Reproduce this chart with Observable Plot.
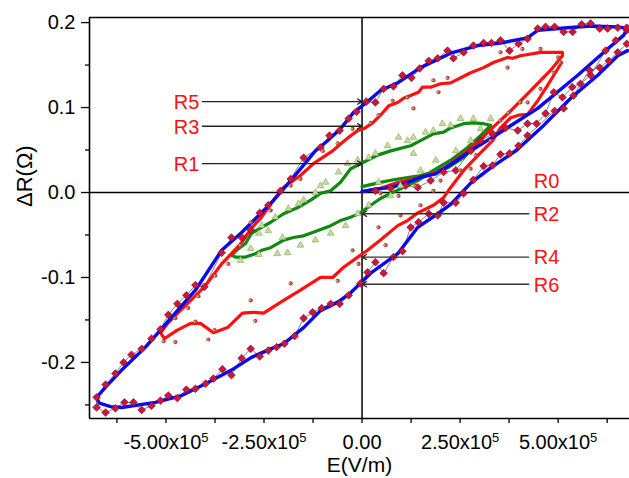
<!DOCTYPE html>
<html><head><meta charset="utf-8">
<script src="https://cdn.jsdelivr.net/npm/d3@7"></script>
<script src="https://cdn.jsdelivr.net/npm/@observablehq/plot@0.6"></script>
<style>
html,body{margin:0;padding:0;background:#fff;overflow:hidden}
#chart svg{display:block}
</style></head><body><div id="chart"></div>
<script>
// E values are in units of 1e5 V/m, ΔR in Ω
const E_UNIT = 1e5;

// Outer loop (R5/R6): smoothed blue curve
const blueLine = [
[0,0.001],[0.34,0.004],[0.73,0.006],[1.11,0.011],[1.49,0.018],[1.88,0.022],[2.26,0.033],[2.77,0.049],[3.53,0.071],[4.48,0.099],[5.50,0.138],[6.26,0.169],[6.67,0.185],[6.77,0.193],
[6.52,0.195],[5.83,0.196],[5.24,0.194],[4.48,0.191],[4.22,0.182],[3.53,0.176],[2.95,0.173],[2.26,0.164],[1.49,0.147],[0.91,0.129],[0.47,0.120],[0.14,0.107],[-0.22,0.094],[-0.55,0.075],[-0.88,0.061],[-1.19,0.049],[-1.82,0.014],[-2.33,-0.013],[-3.07,-0.047],[-3.58,-0.068],[-4.25,-0.115],[-4.86,-0.147],[-5.52,-0.182],[-6.13,-0.209],[-6.54,-0.229],[-6.77,-0.241],
[-6.70,-0.248],[-6.41,-0.252],[-6.13,-0.253],[-5.27,-0.247],[-4.60,-0.239],[-3.99,-0.225],[-3.33,-0.209],[-2.82,-0.194],[-2.33,-0.184],[-2.00,-0.178],[-1.49,-0.159],[-1.06,-0.139],[-0.62,-0.129],[-0.29,-0.118],[0.22,-0.095],[0.91,-0.072],[1.42,-0.041],[1.93,-0.025],[2.26,-0.014],[2.77,0.011],[3.28,0.029],[3.92,0.049],[4.63,0.079],[5.32,0.111],[6.01,0.138],[6.52,0.161],[6.77,0.167]
];

// Outer loop raw data (diamonds)
const outerRaw = [
[0.34,0.002],[0.73,0.005],[1.11,0.008],[1.42,0.006],[1.75,0.014],[2.08,0.024],[2.39,0.026],[2.77,0.049],[3.02,0.061],[3.33,0.069],[3.66,0.076],[3.97,0.073],[4.22,0.081],[4.45,0.081],[4.68,0.093],[4.89,0.118],[5.11,0.112],[5.36,0.124],[5.57,0.128],[5.83,0.138],[6.21,0.167],[6.47,0.179],[6.75,0.191],
[6.75,0.194],[6.52,0.194],[6.26,0.193],[6.06,0.193],[5.83,0.199],[5.60,0.198],[5.37,0.189],[5.14,0.189],[4.91,0.195],[4.68,0.195],[4.48,0.193],[4.22,0.181],[3.99,0.175],[3.76,0.167],[3.53,0.179],[3.30,0.176],[3.10,0.176],[2.84,0.173],[2.59,0.165],[2.33,0.158],[2.18,0.167],[1.93,0.158],[1.70,0.155],[1.47,0.146],[1.26,0.135],[1.03,0.138],[0.80,0.125],[0.55,0.122],[0.34,0.106],[0.11,0.107],[-0.14,0.095],[-0.34,0.087],[-0.57,0.073],[-0.83,0.067],[-1.06,0.053],[-1.49,0.041],[-1.82,0.016],[-2.08,0.002],[-2.39,-0.015],[-2.61,-0.024],[-2.84,-0.044],[-3.07,-0.053],[-3.33,-0.053],[-3.58,-0.071],[-4.02,-0.111],[-4.25,-0.109],[-4.48,-0.121],[-4.71,-0.131],[-4.94,-0.144],[-5.14,-0.161],[-5.37,-0.172],[-5.62,-0.184],[-5.88,-0.191],[-6.08,-0.200],[-6.29,-0.213],[-6.54,-0.226],[-6.77,-0.241],
[-6.77,-0.253],[-6.54,-0.259],[-6.29,-0.254],[-6.06,-0.247],[-5.83,-0.247],[-5.62,-0.256],[-5.37,-0.251],[-5.14,-0.245],[-4.94,-0.239],[-4.71,-0.242],[-4.48,-0.232],[-4.25,-0.231],[-3.99,-0.225],[-3.79,-0.219],[-3.56,-0.208],[-3.33,-0.215],[-3.07,-0.195],[-2.84,-0.184],[-2.61,-0.193],[-2.39,-0.186],[-2.18,-0.182],[-1.98,-0.178],[-1.72,-0.169],[-1.49,-0.148],[-1.26,-0.141],[-1.03,-0.136],[-0.80,-0.131],[-0.57,-0.131],[-0.34,-0.121],[-0.04,-0.107],[0.14,-0.094],[0.34,-0.082],[0.55,-0.095],[0.80,-0.076],[1.03,-0.069],[1.24,-0.041],[1.44,-0.035],[1.70,-0.025],[1.93,-0.027],[2.08,-0.012],[2.39,-0.012],[2.59,-0.001],[2.84,0.015],[3.10,0.031],[3.33,0.032],[3.53,0.045],[3.76,0.046],[3.99,0.055],[4.22,0.067],[4.91,0.096],[5.14,0.099],[5.39,0.114],[5.80,0.144],[6.06,0.147],[6.29,0.155],[6.52,0.165],[6.75,0.175]
];

// Middle loop (R3/R4): red curve
const redLine = [
[0,0.001],[0.47,0.005],[0.85,0.011],[1.49,0.018],[1.93,0.024],[2.26,0.034],[2.69,0.049],[3.10,0.066],[3.46,0.082],[3.79,0.096],[4.30,0.120],[4.81,0.144],[5.11,0.161],
[5.11,0.165],[4.81,0.165],[4.55,0.165],[4.04,0.161],[3.84,0.158],[3.71,0.159],[3.35,0.153],[3.10,0.147],[2.77,0.141],[2.26,0.129],[2.00,0.128],[1.75,0.124],[1.54,0.124],[1.44,0.118],[1.06,0.111],[0.91,0.106],[0.68,0.102],[0.47,0.091],[0.27,0.082],[0.04,0.075],[-0.11,0.073],[-0.37,0.064],[-0.60,0.055],[-0.75,0.049],[-1.24,0.034],[-1.57,0.020],[-2.00,0.006],[-2.33,-0.013],[-2.56,-0.029],[-2.82,-0.042],[-3.07,-0.059],[-3.33,-0.072],[-3.58,-0.084],[-3.84,-0.100],[-4.04,-0.112],[-4.37,-0.127],[-4.68,-0.141],[-4.94,-0.153],[-5.14,-0.165],[-5.04,-0.172],
[-4.71,-0.162],[-4.37,-0.154],[-4.12,-0.154],[-3.79,-0.165],[-3.43,-0.159],[-3.05,-0.142],[-2.77,-0.141],[-2.51,-0.142],[-2.00,-0.127],[-1.57,-0.115],[-1.06,-0.100],[-0.75,-0.100],[-0.47,-0.088],[-0.11,-0.076],[0.14,-0.068],[0.47,-0.056],[0.91,-0.039],[1.16,-0.033],[1.42,-0.024],[1.82,-0.015],[2.08,-0.006],[2.26,0.006],[2.59,0.026],[2.84,0.038],[3.07,0.049],[3.33,0.061],[3.53,0.076],[3.79,0.088],[3.99,0.091],[4.22,0.092],[4.48,0.108],[4.73,0.126],[4.89,0.138],[5.09,0.153]
];

// Middle loop raw data (small dots)
const middleRaw = [
[0.47,-0.001],[0.93,-0.004],[1.36,0.008],[2.00,0.014],[2.77,0.028],
[5.00,0.159],[4.55,0.169],[4.09,0.169],[3.71,0.147],[3.53,0.165],[2.18,0.135],[1.95,0.118],[1.82,0.132],[1.31,0.099],[1.16,0.112],[0.78,0.108],[0.42,0.091],[0.22,0.082],[-0.24,0.075],[-0.62,0.058],[-1.00,0.049],[-1.57,0.016],[-1.82,0.008],[-2.33,-0.021],[-2.84,-0.035],[-3.10,-0.062],[-3.41,-0.084],[-3.74,-0.098],[-4.17,-0.122],[-4.43,-0.136],[-4.76,-0.148],[-5.06,-0.175],
[-4.76,-0.176],[-4.25,-0.152],[-3.92,-0.173],[-3.76,-0.162],[-2.84,-0.127],[-2.72,-0.151],[-1.82,-0.107],[-0.62,-0.104],[-0.24,-0.068],[-0.09,-0.084],[0.42,-0.041],[0.60,-0.062],[0.98,-0.027],[1.49,-0.015],[1.82,0.002],[2.51,0.026],[2.90,0.044],[3.28,0.061],[3.53,0.085],[3.74,0.094],[4.04,0.106],[4.22,0.106],[4.55,0.122],[4.89,0.141],[5.06,0.153]
];

// Inner loop (R1/R2): green curve
const greenLine = [
[0,0.007],[0.47,0.012],[0.80,0.015],[1.49,0.020],[2.18,0.029],[2.59,0.041],[2.95,0.058],[3.28,0.076],
[3.28,0.079],[3.10,0.081],[2.84,0.082],[2.59,0.081],[2.26,0.076],[2.08,0.071],[1.82,0.069],[1.49,0.061],[1.24,0.055],[0.98,0.052],[0.73,0.049],[0.40,0.044],[0.01,0.035],[-0.29,0.028],[-0.55,0.012],[-0.80,0.002],[-1.06,-0.001],[-1.31,-0.009],[-1.65,-0.018],[-2.00,-0.025],[-2.33,-0.035],[-2.56,-0.041],[-2.82,-0.048],[-2.97,-0.060],[-3.20,-0.068],[-3.33,-0.074],
[-3.23,-0.076],[-2.97,-0.076],[-2.72,-0.072],[-2.56,-0.068],[-2.33,-0.065],[-2.00,-0.056],[-1.75,-0.053],[-1.49,-0.051],[-1.14,-0.045],[-0.80,-0.039],[-0.55,-0.033],[-0.29,-0.029],[-0.04,-0.024],[0.22,-0.015],[0.47,-0.007],[0.73,-0.001],[1.06,0.006],[1.42,0.014],[1.82,0.026],[2.26,0.038],[2.69,0.053],[3.02,0.067],[3.28,0.079]
];

// Inner loop raw data (triangles)
const innerRaw = [
[3.28,0.087],[2.84,0.087],[2.51,0.087],[2.26,0.079],[2.05,0.081],[1.82,0.073],[1.62,0.071],[1.31,0.065],[1.16,0.061],[0.93,0.065],[0.65,0.055],[0.34,0.046],[0.17,0.041],[-0.11,0.038],[-0.37,0.034],[-0.60,0.024],[-0.93,0.012],[-1.06,0.008],[-1.19,0.000],[-1.49,-0.009],[-1.62,-0.013],[-1.88,-0.019],[-2.21,-0.029],[-2.39,-0.045],[-2.56,-0.039],[-2.63,-0.048],[-2.84,-0.066],[-3.10,-0.080],
[-2.63,-0.073],[-2.16,-0.072],[-2.03,-0.053],[-1.90,-0.071],[-1.57,-0.062],[-1.19,-0.056],[-0.80,-0.048],[-0.42,-0.039],[-0.11,-0.025],[0.17,-0.015],[0.42,0.012],[0.73,-0.004],[0.98,0.008],[1.31,0.046],[1.49,0.026],[1.88,0.038],[2.39,0.049],[2.77,0.061],[3.02,0.075]
];

// Annotations
const leftLabels = ["R5", "R3", "R1"];
const leftLabelY = [0.107, 0.078, 0.034];
const rightLabels = ["R2", "R4", "R6"];
const rightLabelY = [-0.025, -0.076, -0.108];
const originLabel = "R0";
const originLabelY = 0.013;
const leftArrowStartE = -4.07;
const leftLabelE = -4.15;
const rightArrowStartE = 4.25;
const rightLabelE = 4.38;

// Axis ticks
const xMajor = [-5e5, -2.5e5, 0, 2.5e5, 5e5];
const xMinor = [-6.25e5, -3.75e5, -1.25e5, 1.25e5, 3.75e5, 6.25e5];
const yMajor = [-0.2, -0.1, 0, 0.1, 0.2];
const yMinor = [-0.25, -0.15, -0.05, 0.05, 0.15];
const xDomain = [-6.95e5, 6.82e5];
const yDomain = [-0.266, 0.206];

const rows = arr => arr.map(([e, r]) => ({E: e * E_UNIT, R: r}));
const leftAnn = leftLabels.map((t, i) => ({t, y: leftLabelY[i]}));
const rightAnn = rightLabels.map((t, i) => ({t, y: rightLabelY[i]}));

const fmtX = d => d === 0 ? "0.00" : (d < 0 ? "-" : "") + (Math.abs(d) / 1e5).toFixed(2) + "x10^5";
const fmtY = d => (d < -1e-9 ? "-" : "") + Math.abs(d).toFixed(1);
const red = "#ff1010";

const plot = Plot.plot({
  width: 629, height: 478,
  marginLeft: 89, marginRight: 0, marginTop: 17, marginBottom: 60,
  x: {domain: xDomain},
  y: {domain: yDomain},
  style: {fontFamily: "'Liberation Sans', Arial, sans-serif", fontSize: "20px", color: "#000", background: "#fff"},
  marks: [
    Plot.axisX({ticks: xMajor, tickSize: 5, tickPadding: 11, tickFormat: fmtX, label: null, fontSize: 20, strokeWidth: 1.3}),
    Plot.axisX({ticks: xMinor, tickSize: 5, tickFormat: () => "", label: null, strokeWidth: 1.3}),
    Plot.axisY({ticks: yMajor, tickSize: 8, tickPadding: 6, tickFormat: fmtY, label: null, fontSize: 20, strokeWidth: 1.3}),
    Plot.axisY({ticks: yMinor, tickSize: 4, tickFormat: () => "", label: null, strokeWidth: 1.3}),
    Plot.ruleX([xDomain[0]], {stroke: "#000", strokeWidth: 1.6}),
    Plot.ruleY(yDomain, {stroke: "#000", strokeWidth: 1.6}),
    Plot.ruleX([0], {stroke: "#000", strokeWidth: 1.5}),
    Plot.ruleY([0], {stroke: "#000", strokeWidth: 1.5}),
    // raw outer loop: thin connector
    Plot.line(rows(outerRaw), {x: "E", y: "R", stroke: "#333", strokeWidth: 0.6}),
    // curves
    Plot.line(rows(greenLine), {x: "E", y: "R", stroke: "#118811", strokeWidth: 3.2, strokeLinejoin: "round"}),
    Plot.line(rows(redLine), {x: "E", y: "R", stroke: red, strokeWidth: 3.2, strokeLinejoin: "round"}),
    Plot.line(rows(blueLine), {x: "E", y: "R", stroke: "#0a0af0", strokeWidth: 3.4, strokeLinejoin: "round"}),
    Plot.dot(rows(outerRaw), {x: "E", y: "R", symbol: "square", rotate: 45, r: 3.1, fill: "#d0143c", stroke: "#5a0a14", strokeWidth: 0.5}),
    Plot.dot(rows(middleRaw), {x: "E", y: "R", r: 2.1, fill: "#c83a3a", stroke: "none"}),
    Plot.dot(rows(middleRaw), {x: "E", y: "R", r: 1.1, dx: -0.8, fill: "#9dbb6a", stroke: "none"}),
    Plot.dot(rows(innerRaw), {x: "E", y: "R", symbol: "triangle", r: 2.5, fill: "#c9dc9e", stroke: "#8aa35a", strokeWidth: 0.6}),
    // annotation arrows
    Plot.arrow(leftAnn, {x1: leftArrowStartE * E_UNIT, x2: 0, y1: "y", y2: "y", stroke: "#222", strokeWidth: 1.3, headLength: 6}),
    Plot.arrow(rightAnn, {x1: rightArrowStartE * E_UNIT, x2: 0, y1: "y", y2: "y", stroke: "#333", strokeWidth: 1.3, headLength: 6}),
    Plot.text(leftAnn, {x: leftLabelE * E_UNIT, y: "y", text: "t", textAnchor: "end", fill: red, fontSize: 20, dy: 1}),
    Plot.text(rightAnn, {x: rightLabelE * E_UNIT, y: "y", text: "t", textAnchor: "start", fill: red, fontSize: 20, dy: 1}),
    Plot.text([originLabel], {x: rightLabelE * E_UNIT, y: originLabelY, text: d => d, textAnchor: "start", fill: red, fontSize: 20}),
    // axis titles
    Plot.text(["E(V/m)"], {frameAnchor: "bottom", dy: 53, text: d => d, fontSize: 21}),
    Plot.text(["ΔR(Ω)"], {frameAnchor: "left", dx: -65, dy: -11, rotate: -90, text: d => d, fontSize: 22})
  ]
});

// superscript exponents in x tick labels
d3.select(plot).selectAll("text").each(function() {
  const t = this.textContent;
  if (t.includes("^")) {
    const [base, exp] = t.split("^");
    const sel = d3.select(this);
    sel.text(base);
    sel.append("tspan").attr("dy", "-0.55em").attr("font-size", "13px").text(exp);
  }
});

document.getElementById("chart").appendChild(plot);
</script>
</body></html>
